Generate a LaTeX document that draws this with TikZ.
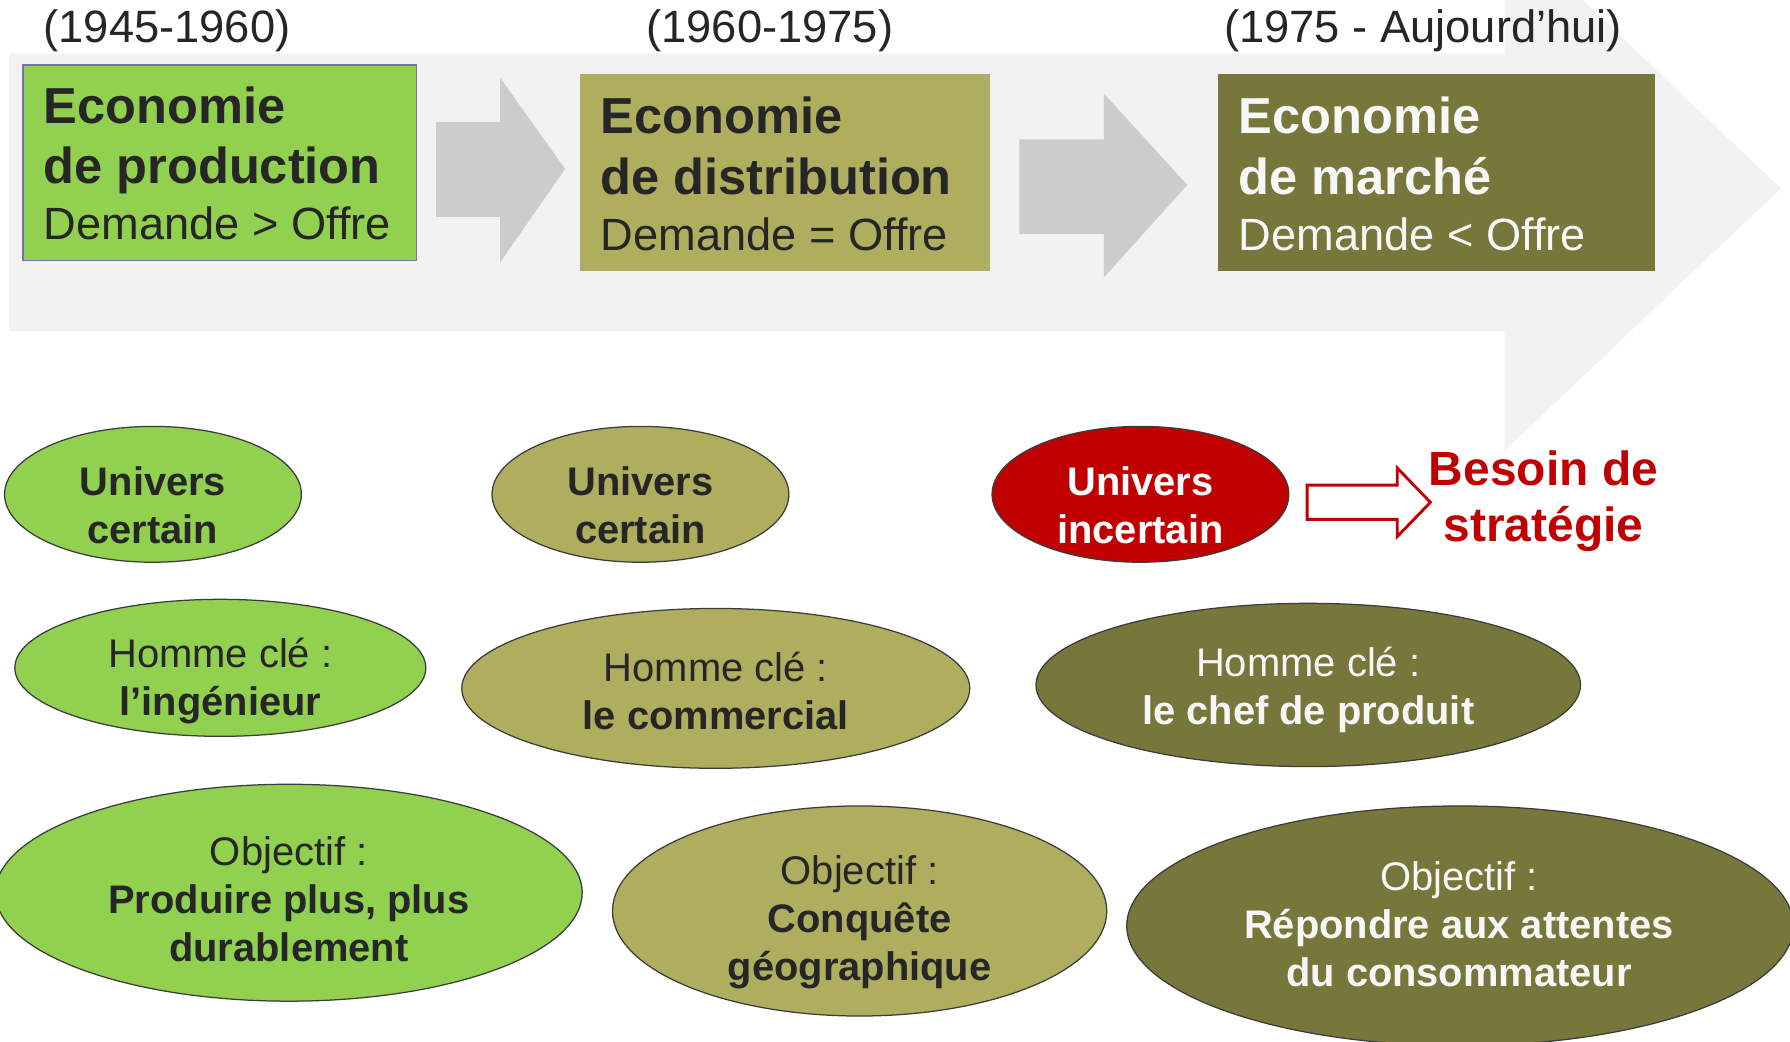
\documentclass[tikz,border=0pt]{standalone}
\usepackage{fontspec}
\setmainfont{Liberation Sans}
\usetikzlibrary{shapes.geometric}
\definecolor{cgreen}{HTML}{92D050}
\definecolor{colive}{HTML}{AFAE5F}
\definecolor{cdark}{HTML}{77773B}
\definecolor{cred}{HTML}{C00000}
\definecolor{cbg}{HTML}{F2F2F2}
\definecolor{carr}{HTML}{CCCCCC}
\definecolor{ctext}{HTML}{262626}
\definecolor{cwhite}{HTML}{F7F7F7}
\definecolor{cborder}{HTML}{7373B0}
\begin{document}
\begin{tikzpicture}[x=1pt,y=-1pt,
  box/.style={rectangle, inner sep=0pt, outer sep=0pt, anchor=north west},
  ell/.style={ellipse, draw=ctext!90, line width=1.1pt, inner sep=0pt},
  datetxt/.style={font=\fontsize{39.7}{47}\selectfont, text=ctext, anchor=base west, inner sep=0pt},
  btitle/.style={font=\fontsize{44.3}{52}\selectfont\bfseries, anchor=base west, inner sep=0pt},
  bsub/.style={font=\fontsize{39.6}{46}\selectfont, anchor=base west, inner sep=0pt},
  ereg/.style={font=\fontsize{35}{42}\selectfont, anchor=base, inner sep=0pt},
  ebold/.style={font=\fontsize{34.9}{42}\selectfont\bfseries, anchor=base, inner sep=0pt},
  redtxt/.style={font=\fontsize{42}{50}\selectfont\bfseries, text=cred, anchor=base, inner sep=0pt}
]
\useasboundingbox (0,0) rectangle (1568,912);
\clip (0,0) rectangle (1568,912);
% big background arrow
\fill[cbg] (8,47) -- (1318,47) -- (1318,-65) -- (1560,165) -- (1318,395) -- (1318,290) -- (8,290) -- cycle;
% small arrows
\fill[carr] (382,107) -- (438,107) -- (438,68) -- (495,148) -- (438,230) -- (438,190) -- (382,190) -- cycle;
\fill[carr] (893,122) -- (967,122) -- (967,82) -- (1040,162) -- (967,243) -- (967,205) -- (893,205) -- cycle;
% dates
\node[datetxt] (d1) at (38,37) {(1945-1960)};
\node[datetxt] (d2) at (566,37) {(1960-1975)};
\node[datetxt] (d3) at (1072,37) {(1975 - Aujourd’hui)};
% boxes
\node[box, fill=cgreen, draw=cborder, line width=1.2pt, minimum width=345, minimum height=171] (box1) at (20,57) {};
\node[box, fill=colive, minimum width=359, minimum height=172] (box2) at (508,65) {};
\node[box, fill=cdark, minimum width=383, minimum height=172] (box3) at (1067,65) {};
\node[btitle, text=ctext] (b1a) at (38,108) {Economie};
\node[btitle, text=ctext] (b1b) at (38,161) {de production};
\node[bsub, text=ctext] (b1c) at (38,210) {Demande > Offre};
\node[btitle, text=ctext] (b2a) at (526,117) {Economie};
\node[btitle, text=ctext] (b2b) at (526,170) {de distribution};
\node[bsub, text=ctext] (b2c) at (526,219) {Demande = Offre};
\node[btitle, text=cwhite] (b3a) at (1085,117) {Economie};
\node[btitle, text=cwhite] (b3b) at (1085,170) {de marché};
\node[bsub, text=cwhite] (b3c) at (1085,219) {Demande < Offre};
% row 1 ellipses
\node[ell, fill=cgreen, minimum width=260, minimum height=119] (u1) at (134,433) {};
\node[ell, fill=colive, minimum width=260, minimum height=119] (u2) at (561,433) {};
\node[ell, fill=cred, minimum width=260, minimum height=119] (u3) at (999,433) {};
\node[ebold, text=ctext] (u1a) at (134,434) {Univers};
\node[ebold, text=ctext] (u1b) at (134,476) {certain};
\node[ebold, text=ctext] (u2a) at (561,434) {Univers};
\node[ebold, text=ctext] (u2b) at (561,476) {certain};
\node[ebold, text=white] (u3a) at (999,434) {Univers};
\node[ebold, text=white] (u3b) at (999,476) {incertain};
% besoin arrow
\draw[cred, line width=2.5pt, fill=white, line join=miter] (1145,425) -- (1224,425) -- (1224,410) -- (1253,440) -- (1224,470) -- (1224,455) -- (1145,455) -- cycle;
\node[redtxt] (s1) at (1352,425) {Besoin de};
\node[redtxt] (s2) at (1352,474) {stratégie};
% row 2 ellipses
\node[ell, fill=cgreen, minimum width=360, minimum height=120] (h1) at (193,585) {};
\node[ell, fill=colive, minimum width=445, minimum height=140] (h2) at (627,603) {};
\node[ell, fill=cdark, minimum width=477, minimum height=143] (h3) at (1146,600) {};
\node[ereg, text=ctext] (h1a) at (193,585) {Homme clé :};
\node[ebold, text=ctext] (h1b) at (193,627) {l’ingénieur};
\node[ereg, text=ctext] (h2a) at (627,597) {Homme clé :};
\node[ebold, text=ctext] (h2b) at (627,639) {le commercial};
\node[ereg, text=cwhite] (h3a) at (1146,593) {Homme clé :};
\node[ebold, text=cwhite] (h3b) at (1146,635) {le chef de produit};
% row 3 ellipses
\node[ell, fill=cgreen, minimum width=514, minimum height=190] (o1) at (253,782) {};
\node[ell, fill=colive, minimum width=433, minimum height=184] (o2) at (753,798) {};
\node[ell, fill=cdark, minimum width=584, minimum height=210] (o3) at (1279,811) {};
\node[ereg, text=ctext] (o1a) at (253,758) {Objectif :};
\node[ebold, text=ctext] (o1b) at (253,800) {Produire plus, plus};
\node[ebold, text=ctext] (o1c) at (253,842) {durablement};
\node[ereg, text=ctext] (o2a) at (753,775) {Objectif :};
\node[ebold, text=ctext] (o2b) at (753,817) {Conquête};
\node[ebold, text=ctext] (o2c) at (753,859) {géographique};
\node[ereg, text=cwhite] (o3a) at (1278,780) {Objectif :};
\node[ebold, text=cwhite] (o3b) at (1278,822) {Répondre aux attentes};
\node[ebold, text=cwhite] (o3c) at (1278,864) {du consommateur};
\end{tikzpicture}
\end{document}
